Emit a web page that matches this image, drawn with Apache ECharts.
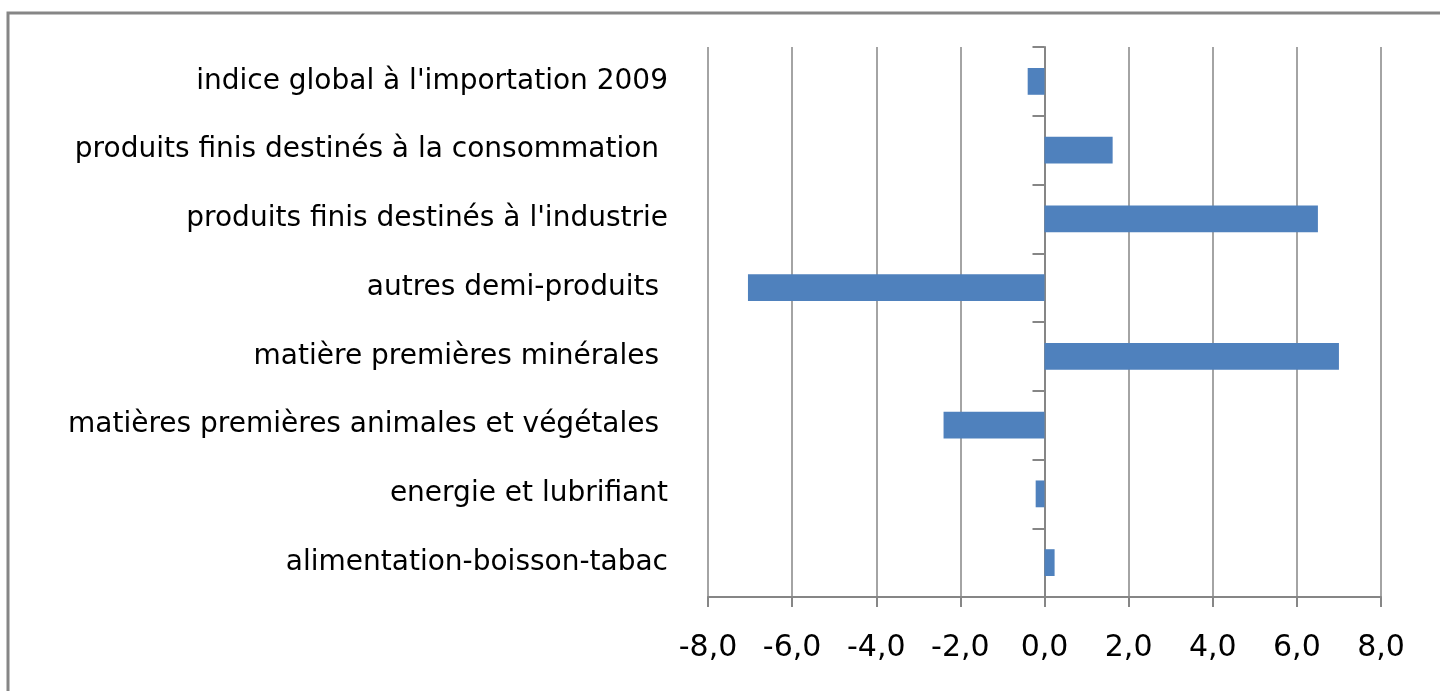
<!DOCTYPE html>
<html>
<head>
<meta charset="utf-8">
<script src="https://cdn.jsdelivr.net/npm/echarts@6/dist/echarts.min.js"></script>
<style>
	html, body { margin: 0; padding: 0; background: #fff; }
	#chart { width: 1440px; height: 691px; }
</style>
</head>
<body>
<div id="chart"></div>
<script>
	// categories, top to bottom
	const categories = [
		'indice global à l\'importation 2009',
		'produits finis destinés à la consommation ',
		'produits finis destinés à l\'industrie',
		'autres demi-produits ',
		'matière premières minérales ',
		'matières premières animales et végétales ',
		'energie et lubrifiant',
		'alimentation-boisson-tabac'
	]
	const values = [-0.4, 1.62, 6.5, -7.05, 7.0, -2.4, -0.21, 0.24]
	const xTicks = { min: -8, max: 8, interval: 2 }

	const gray = '#868686'
	const barColor = '#4F81BD'
	const font = '"DejaVu Sans", Verdana, sans-serif'

	const chart = echarts.init(document.getElementById('chart'))
	const option = {
		animation: false,
		graphic: [
			{
				type: 'rect',
				shape: { x: 8, y: 13, width: 1500, height: 800 },
				style: { fill: 'none', stroke: gray, lineWidth: 3 }
			}
		],
		grid: {
			left: 708,
			right: 59,
			top: 47,
			bottom: 94
		},
		xAxis: {
			type: 'value',
			position: 'bottom',
			min: xTicks.min,
			max: xTicks.max,
			interval: xTicks.interval,
			axisLine: { show: true, onZero: false, lineStyle: { color: gray, width: 2 } },
			axisTick: { show: true, length: 10, lineStyle: { color: gray, width: 2 } },
			splitLine: { show: true, lineStyle: { color: gray, width: 1.5 } },
			axisLabel: {
				margin: 36,
				color: '#000',
				fontFamily: font,
				fontSize: 30,
				formatter: (v) => v.toFixed(1).replace('.', ',')
			}
		},
		yAxis: [
			{
				// labels, on the left side of the grid
				type: 'category',
				data: categories,
				inverse: true,
				position: 'left',
				axisLine: { show: false, onZero: false },
				axisTick: { show: false },
				axisLabel: {
					margin: 40,
					color: '#000',
					fontFamily: font,
					fontSize: 28
				}
			},
			{
				// axis line + ticks at 0
				type: 'category',
				data: categories,
				inverse: true,
				position: 'left',
				axisLine: { show: true, onZero: true, onZeroAxisIndex: 0, lineStyle: { color: gray, width: 2 } },
				axisTick: { show: true, length: 12, lineStyle: { color: gray, width: 2 } },
				axisLabel: { show: false }
			}
		],
		series: [
			{
				type: 'bar',
				data: values,
				yAxisIndex: 0,
				barCategoryGap: '61%',
				itemStyle: { color: barColor }
			}
		]
	}
	chart.setOption(option)
	window.onresize = () => {
		chart.resize()
	}
</script>
</body>
</html>
